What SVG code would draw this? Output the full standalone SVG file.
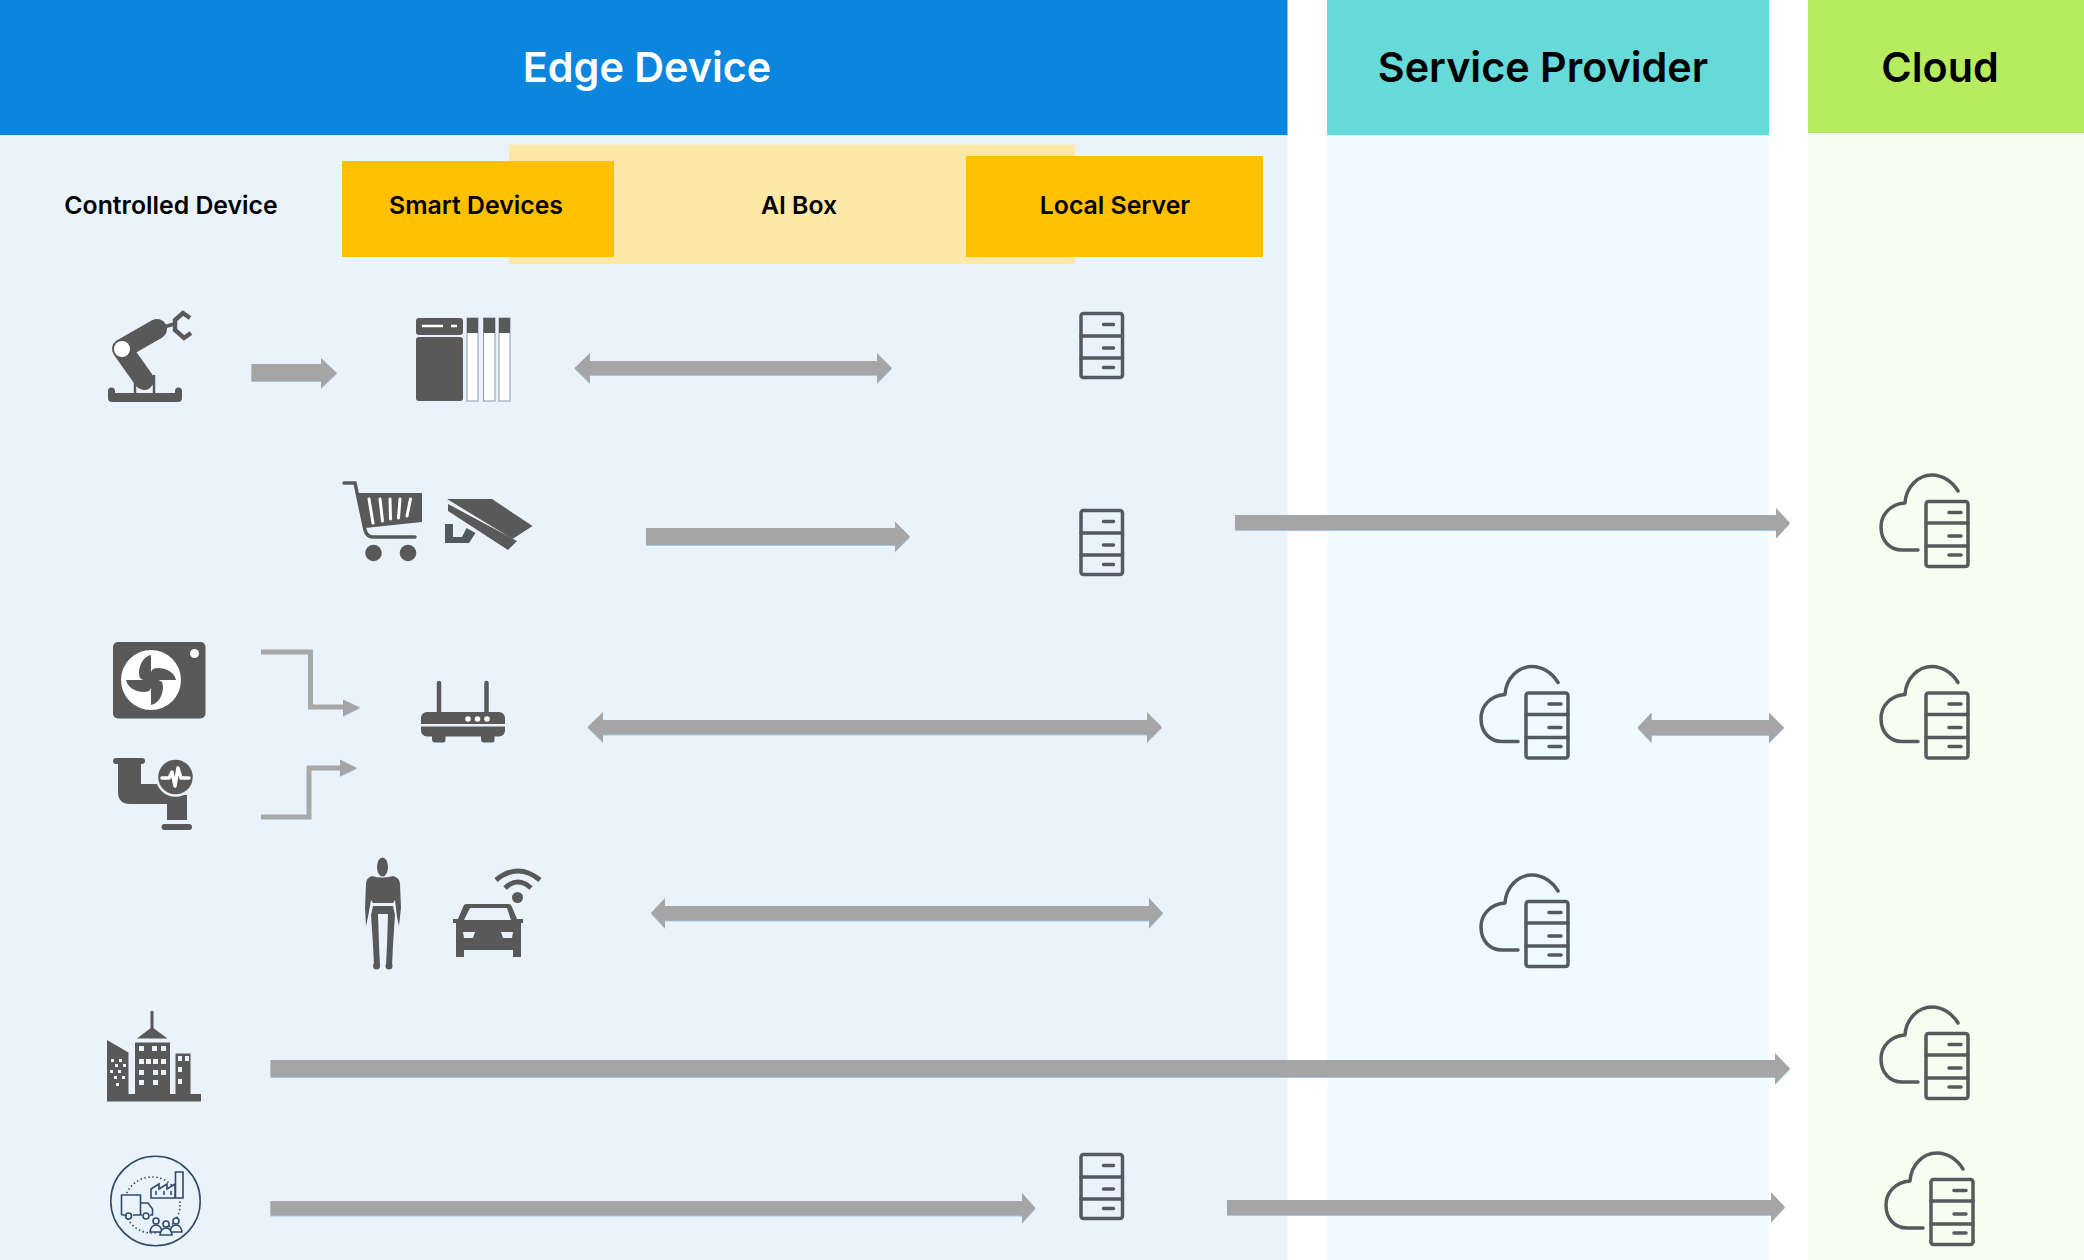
<svg xmlns="http://www.w3.org/2000/svg" xmlns:xlink="http://www.w3.org/1999/xlink" width="2084" height="1260" viewBox="0 0 2084 1260">
<style>
text{font-family:"Inter","Liberation Sans",sans-serif;text-anchor:middle}
.h{font-size:41.300px;font-weight:600}
.s{font-size:24.800px;font-weight:600;fill:#000}
.i{fill:#595959}
.w{fill:#fff}
.bg{fill:#eaf3fc}
.wl{stroke:#fff;fill:none}
.dl{stroke:#595959;fill:none}
.srv{fill:none;stroke:#555a5f;stroke-width:3.500;stroke-linejoin:round;stroke-linecap:round}
.thin{fill:none;stroke:#2f4d6b;stroke-width:1.600}
#connectors polygon{fill:#a5a5a5;filter:drop-shadow(0 1px 0 #a3c6e6)}
#connectors path{fill:none;stroke:#a8a8a8;stroke-width:5}
</style>
<defs>
<g id="server" class="srv">
<rect x="1.500" y="1.500" width="41.500" height="64" rx="2.500"/>
<path d="M1.500 24H43M1.500 46H43M24 12.500H34M24 36H34M24 55.500H34"/>
</g>
<g id="cloudserver" class="srv">
<path d="M78 16C72 6 62 0 52 0C38 0 26 12 25 28C10 29 1 40 1 52C1 66 10 75 22 75H38"/>
<rect x="46" y="26.500" width="42" height="65" rx="2.500"/>
<path d="M46 48H88M46 71H88M69 37.500H81M69 61H81M69 80H81"/>
</g>
<path id="blade" d="M0 0L25 0C23-10 9-14 2-11C-1-8-1-3 0 0Z"/>
</defs>
<rect width="2084" height="1260" fill="#fff"/>
<g id="edge-column">
<rect x="0" y="135" width="1287.500" height="1125" fill="#eaf3fc"/>
<rect x="0" y="0" width="1287.500" height="135" fill="#0a86de"/>
<text class="h" x="647" y="81.500" fill="#fff">Edge Device</text>
</g>
<g id="service-provider-column">
<rect x="1327" y="135" width="442" height="1125" fill="#f0fbfd"/>
<rect x="1327" y="0" width="442" height="135" fill="#66d9d9"/>
<text class="h" x="1543" y="81.500" fill="#000">Service Provider</text>
</g>
<g id="cloud-column">
<rect x="1808" y="133" width="276" height="1127" fill="#f8fdf0"/>
<rect x="1808" y="0" width="276" height="133" fill="#b7ec5e"/>
<text class="h" x="1940" y="81.500" fill="#000">Cloud</text>
</g>
<g id="controlled-device-label"><text class="s" x="171" y="214">Controlled Device</text></g>
<g id="ai-box"><rect x="509" y="144.500" width="566" height="119.500" fill="#fee8a8"/><text class="s" x="799" y="214">AI Box</text></g>
<g id="smart-devices"><rect x="342" y="161" width="272" height="96" fill="#ffc000"/><text class="s" x="476" y="214">Smart Devices</text></g>
<g id="local-server"><rect x="966" y="156" width="297" height="101" fill="#ffc000"/><text class="s" x="1115" y="214">Local Server</text></g>

<g id="connectors">
<polygon points="251.500,364 321,364 321,358 337,373 321,388 321,381 251.500,381"/>
<polygon points="574.500,368 590,353 590,361 877,361 877,353 892,368 877,383 877,375 590,375 590,383"/>
<polygon points="646,528 895,528 895,521.500 910,536.500 895,551.500 895,545 646,545"/>
<polygon points="1235,515 1776,515 1776,508 1790,523 1776,538 1776,530 1235,530"/>
<polygon points="587.500,727 603,712 603,720 1147,720 1147,712 1162,727 1147,742 1147,734.500 603,734.500 603,742"/>
<polygon points="1637.500,727.500 1651.500,712.500 1651.500,720 1769,720 1769,712.500 1784,727.500 1769,742.500 1769,735 1651.500,735 1651.500,742.500"/>
<polygon points="651,913 665,898 665,906 1149,906 1149,898 1163,913 1149,928 1149,920.500 665,920.500 665,928"/>
<polygon points="270.500,1060 1775,1060 1775,1053 1790,1068.500 1775,1084 1775,1077 270.500,1077"/>
<polygon points="270.500,1201 1022,1201 1022,1193 1035.500,1208 1022,1223 1022,1215.500 270.500,1215.500"/>
<polygon points="1227,1200 1771,1200 1771,1192 1785,1207 1771,1222 1771,1215 1227,1215"/>
<path d="M261 652H310.500V707H345"/>
<polygon points="343,699.500 360,707.500 343,716"/>
<path d="M261 817H309V768H341"/>
<polygon points="340,759.500 357,768 340,776"/>
</g>

<g id="robot-arm">
<path class="i" d="M108 391a3.500 3.500 0 0 1 7 0v2h60v-2a3.500 3.500 0 0 1 7 0v7a4 4 0 0 1-4 4h-66a4 4 0 0 1-4-4z"/>
<path class="dl" stroke-width="2.500" d="M135 375V393M154 375V393"/>
<path class="dl" stroke-width="20" stroke-linecap="round" stroke-linejoin="round" d="M144 380L122 349L157 329"/>
<circle class="w" cx="122" cy="349" r="8"/>
<path class="dl" stroke-width="3.500" d="M164 327L174 324"/>
<path class="dl" stroke-width="4.500" d="M190 318L183 313L175 320V330L184 338L191 333"/>
</g>
<g id="ai-device">
<rect class="i" x="416" y="318" width="47" height="17" rx="3"/>
<rect class="i" x="416" y="337" width="47" height="64" rx="3"/>
<path class="wl" stroke-width="2.500" d="M422 326H443M451 326H457"/>
<g fill="#fff" stroke="#8a9aa8" stroke-width="1">
<rect x="467" y="318" width="11" height="83"/><rect x="483.500" y="318" width="11.500" height="83"/><rect x="499" y="318" width="11" height="83"/>
</g>
<rect class="i" x="467" y="318" width="11" height="15"/><rect class="i" x="483.500" y="318" width="11.500" height="15"/><rect class="i" x="499" y="318" width="11" height="15"/>
</g>
<g id="server-row1"><use xlink:href="#server" href="#server" x="1079.500" y="312"/></g>

<g id="shopping-cart">
<path class="dl" stroke-width="3.500" stroke-linecap="round" d="M344 483H355L365 530Q367 537 373 537H415"/>
<polygon class="i" points="357,493 422,493 422,522 365,528"/>
<path class="wl" stroke-width="3" stroke-linecap="round" d="M369 499L373 523M380 499L382.500 521M390 499L390.500 519M400 499L398.500 518M410.500 499L407 516"/>
<circle class="i" cx="373.500" cy="553" r="8.300"/><circle class="i" cx="408" cy="553" r="8.300"/>
</g>
<g id="camera">
<polygon class="i" points="447,499 492,499 532.500,526 512.500,539"/>
<polygon class="i" points="448,504 517,541 508,550 448,511"/>
<polygon points="445,524 453,524 453,537 462,537 466.500,528 475.500,533 469,543 445,543" fill="#4f5a63"/>
</g>
<g id="server-row2"><use xlink:href="#server" href="#server" x="1079.500" y="509"/></g>
<g id="cloud-row2"><use xlink:href="#cloudserver" href="#cloudserver" x="1880" y="475"/></g>

<g id="fan">
<rect class="i" x="113" y="642" width="92.500" height="76.500" rx="5"/>
<circle class="w" cx="194.500" cy="653.500" r="4.500"/>
<circle class="w" cx="151" cy="680" r="30"/>
<g class="i" transform="translate(151 680)">
<use xlink:href="#blade" href="#blade"/>
<use xlink:href="#blade" href="#blade" transform="rotate(90)"/>
<use xlink:href="#blade" href="#blade" transform="rotate(180)"/>
<use xlink:href="#blade" href="#blade" transform="rotate(270)"/>
</g>
</g>
<g id="pipe-sensor">
<rect class="i" x="113" y="758" width="32" height="6" rx="3"/>
<path class="i" d="M118 764H141V784H158L168 795H187V820H167V804H130Q118 804 118 792Z"/>
<rect class="i" x="161.500" y="824" width="30.500" height="6" rx="3"/>
<circle class="i" cx="175.500" cy="777" r="18.500" stroke="#eaf3fc" stroke-width="2.500"/>
<path class="wl" stroke-width="3.500" stroke-linecap="round" stroke-linejoin="round" d="M162 778H169L172 772L175 786L178 768L181 778H189"/>
</g>
<g id="router">
<path class="dl" stroke-width="4.500" stroke-linecap="round" d="M439 683V714M486.500 683V714"/>
<rect class="i" x="421" y="712" width="84" height="24.500" rx="6"/>
<rect class="bg" x="421" y="724" width="84" height="2.500"/>
<path class="i" d="M432 736H445.500V740a2.500 2.500 0 0 1-2.500 2.500H435a3 3 0 0 1-3-2.500ZM481 736H494.500V740a2.500 2.500 0 0 1-2.500 2.500H484a3 3 0 0 1-3-2.500Z"/>
<circle class="w" cx="468" cy="719" r="2.800"/><circle class="w" cx="477.500" cy="719" r="2.800"/><circle class="w" cx="487" cy="719" r="2.800"/>
</g>
<g id="server-cloud-row3"><use xlink:href="#cloudserver" href="#cloudserver" x="1480" y="666.500"/></g>
<g id="cloud-row3"><use xlink:href="#cloudserver" href="#cloudserver" x="1880" y="666.500"/></g>

<g id="human">
<ellipse class="i" cx="382.500" cy="867" rx="5.500" ry="9.500"/>
<path class="i" d="M372 876Q382 879 393 876Q400 878 400 884L401 908L399 926L397 917L395 900L393 903H373L371 900L368 917L366 926L365 908L366 884Q366 878 372 876Z"/>
<path class="i" d="M373 906H393L395 915L393 945L392 966H386L387 945L388 914H378L379 945L380 966H374L373 945L371 915Z"/>
<ellipse class="i" cx="376.500" cy="966" rx="3.500" ry="3.500"/><ellipse class="i" cx="389" cy="966" rx="3.500" ry="3.500"/>
</g>
<g id="connected-car">
<path class="i" d="M466 904H509Q511 904 512 907L517 919H523V923H521V957H513V950H464V957H456V923H453V919H458L463 907Q464 904 466 904Z"/>
<polygon class="bg" points="470,908 507,908 511,920 464,920"/>
<polygon class="bg" points="463,932 475,932 473,938 464,938"/>
<polygon class="bg" points="501,932 513,932 512,938 503,938"/>
<circle class="i" cx="517.500" cy="897.500" r="5.500"/>
<path class="dl" stroke-width="5" d="M505 888Q518 876 531 888M496 880Q518 862 540 880"/>
</g>
<g id="server-cloud-row4"><use xlink:href="#cloudserver" href="#cloudserver" x="1480" y="875"/></g>

<g id="city">
<polygon class="i" points="107,1040 128.500,1052.500 128.500,1094 135,1094 135,1042.500 170,1042.500 170,1094 175.500,1094 175.500,1053.500 190.500,1053.500 190.500,1094 201,1094 201,1101.500 107,1101.500"/>
<polygon class="i" points="152,1027 167.500,1038.500 137,1038.500"/>
<rect class="i" x="150.500" y="1011" width="3" height="18"/>
<g class="bg">
<rect x="139" y="1046" width="5" height="5"/><rect x="152" y="1046" width="5" height="5"/><rect x="161" y="1046" width="5" height="5"/>
<rect x="139" y="1059" width="5" height="5"/><rect x="146" y="1059" width="5" height="5"/><rect x="153" y="1059" width="5" height="5"/><rect x="161" y="1059" width="5" height="5"/>
<rect x="139" y="1070" width="5" height="5"/><rect x="153" y="1070" width="5" height="5"/><rect x="161" y="1070" width="5" height="5"/>
<rect x="139" y="1080" width="5" height="5"/><rect x="153" y="1080" width="5" height="5"/>
<rect x="178" y="1056" width="4" height="5"/><rect x="185" y="1056" width="4" height="5"/><rect x="178" y="1067" width="4" height="5"/><rect x="178" y="1079" width="4" height="5"/>
<rect x="111" y="1059" width="3" height="3"/><rect x="119" y="1059" width="3" height="3"/><rect x="115" y="1064" width="3" height="3"/><rect x="123" y="1064" width="3" height="3"/><rect x="110" y="1070" width="3" height="3"/><rect x="118" y="1070" width="3" height="3"/><rect x="114" y="1076" width="3" height="3"/><rect x="122" y="1076" width="3" height="3"/><rect x="116" y="1083" width="3" height="3"/>
</g>
</g>
<g id="cloud-row5"><use xlink:href="#cloudserver" href="#cloudserver" x="1880" y="1007"/></g>

<g id="supply-chain">
<circle class="thin" cx="155.500" cy="1201" r="44.700"/>
<circle class="thin" cx="152" cy="1205" r="28" stroke-dasharray="1.500 2.500" stroke-width="1.200"/>
<path class="thin" style="fill:#eaf3fc" d="M121.500 1215V1195H140.500V1203H148L152.500 1209V1215H150M142 1215H133M125 1215H121.500M140.500 1203V1215"/>
<circle class="thin" cx="128.500" cy="1216" r="3"/><circle class="thin" cx="146" cy="1216" r="3"/>
<path class="thin" style="fill:#eaf3fc" d="M151 1198V1189L159 1184V1189L167 1184V1189L175 1184V1198ZM175.500 1198V1172H183V1198Z"/>
<path class="thin" d="M156 1191V1195M164 1191V1195M171 1191V1195"/>
<g class="thin" style="fill:#eaf3fc">
<circle cx="156" cy="1221" r="3"/><path d="M150 1232Q151 1225 156 1225Q161 1225 162 1232Z"/>
<circle cx="176" cy="1221" r="3"/><path d="M170 1232Q171 1225 176 1225Q181 1225 182 1232Z"/>
<circle cx="166" cy="1224" r="3"/><path d="M160 1235Q161 1228 166 1228Q171 1228 172 1235Z"/>
</g>
</g>
<g id="server-row6"><use xlink:href="#server" href="#server" x="1079.500" y="1153"/></g>
<g id="cloud-row6"><use xlink:href="#cloudserver" href="#cloudserver" x="1885" y="1153"/></g>
</svg>
